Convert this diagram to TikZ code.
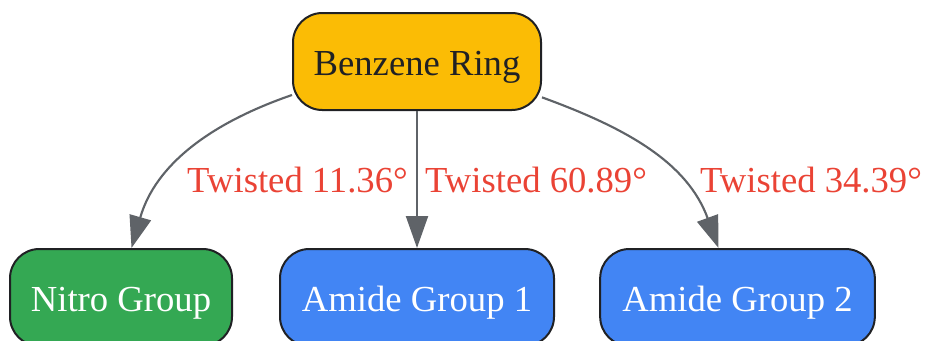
\documentclass[tikz,border=0pt]{standalone}
\usepackage{fontspec}
\setmainfont{Liberation Serif}
\usetikzlibrary{arrows.meta}
\definecolor{gyellow}{HTML}{FBBC05}
\definecolor{ggreen}{HTML}{34A853}
\definecolor{gblue}{HTML}{4285F4}
\definecolor{gred}{HTML}{EA4335}
\definecolor{ggrey}{HTML}{5F6368}
\definecolor{gdark}{HTML}{202124}
\tikzset{
  box/.style={draw=gdark, line width=1.5pt, rounded corners=22pt, inner sep=0pt,
    minimum height=72.75pt, text height=21pt, text depth=0pt,
    font=\fontsize{27.5}{33}\selectfont},
  edge/.style={draw=ggrey, line width=1.6pt, -{Triangle[length=24pt,width=16.5pt]}},
  elabel/.style={text=gred, anchor=base, inner sep=0pt, font=\fontsize{27.5}{33}\selectfont}
}
\begin{document}
\begin{tikzpicture}[x=0.75pt,y=-0.75pt]
\useasboundingbox (0,0) rectangle (925,340);
\clip (0,0) rectangle (925,340);
\node[box, fill=gyellow, text=gdark, minimum width=186pt] (b) at (417,61.5) {Benzene Ring};
\node[box, fill=ggreen, text=white, minimum width=166.5pt] (n) at (121,297.5) {Nitro Group};
\node[box, fill=gblue, text=white, minimum width=205.5pt] (a1) at (417,297.5) {Amide Group 1};
\node[box, fill=gblue, text=white, minimum width=206pt] (a2) at (737.5,297.5) {Amide Group 2};
\draw[edge] (b.195) to[out=199,in=74] (n.78);
\draw[edge] (b) -- (a1);
\draw[edge] (b.344.5) to[out=-20,in=110] (a2.111);
\node[elabel] (l1) at (297.5,192.7) {Twisted 11.36°};
\node[elabel] (l2) at (536,192.7) {Twisted 60.89°};
\node[elabel] (l3) at (811,192.7) {Twisted 34.39°};
\end{tikzpicture}
\end{document}
